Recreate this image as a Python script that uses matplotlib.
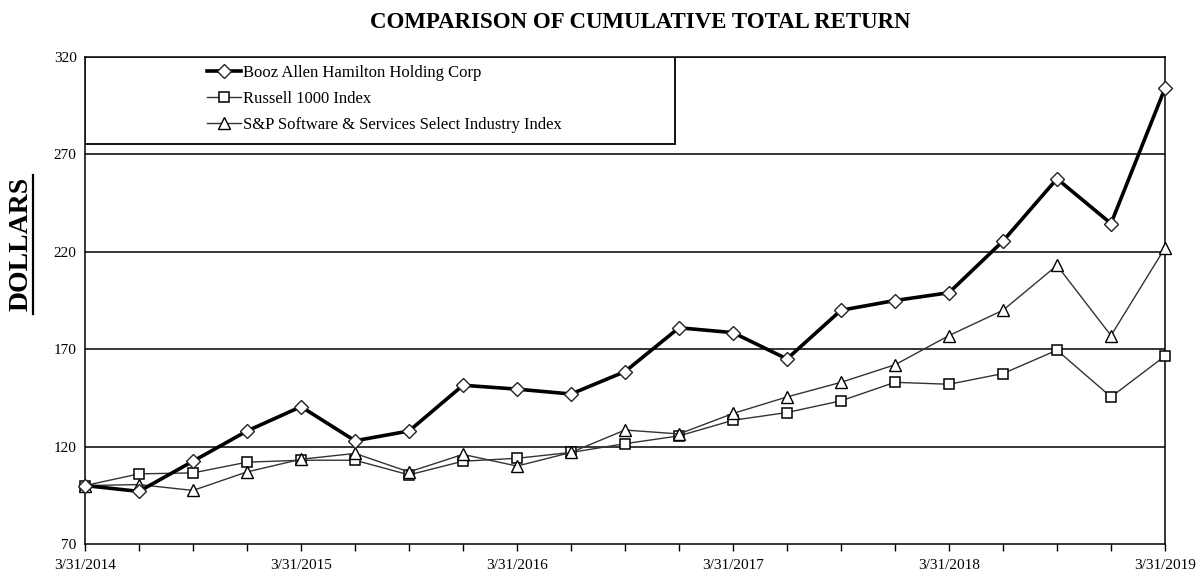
import matplotlib
matplotlib.use('Agg')
import matplotlib.pyplot as plt
from matplotlib.lines import Line2D
from matplotlib.patches import Rectangle

plt.rcParams['font.family'] = ['Liberation Serif', 'DejaVu Serif']

# quarterly points, 3/31/2014 .. 3/31/2019
quarters = list(range(21))
year_labels = ['3/31/2014', '3/31/2015', '3/31/2016', '3/31/2017', '3/31/2018', '3/31/2019']

booz = [100, 97, 112.5, 128, 140.5, 123, 128, 151.5, 149.5, 147, 158.5,
        181, 178.5, 165, 190, 195, 199, 225.5, 257.5, 234.5, 304]
russell = [100, 106, 106.5, 112, 113, 113, 105.5, 112.5, 114, 117, 121.5,
           125.5, 133.5, 137.5, 143.5, 153, 152, 157.5, 169.5, 145.5, 166.5]
snp = [100, 100.5, 97.5, 107, 113.5, 116.5, 107, 116, 110, 117, 128.5,
       126.5, 137, 145.5, 153, 162, 177, 190, 213, 177, 222]

names = ['Booz Allen Hamilton Holding Corp', 'Russell 1000 Index',
         'S&P Software & Services Select Industry Index']

fig = plt.figure(figsize=(12.02, 5.73), dpi=100)
ax = fig.add_axes([85 / 1202, 1 - 544 / 573, 1080 / 1202, 487 / 573])

for y in [120, 170, 220, 270, 320]:
    ax.axhline(y, color='black', lw=1.1, zorder=1)

h1, = ax.plot(quarters, booz, color='black', lw=2.6, marker='D', ms=6.8,
              mfc='white', mec='#222222', mew=1.0, clip_on=False, zorder=5)
h2, = ax.plot(quarters, russell, color='#333333', lw=1.0, marker='s', ms=7.8,
              mfc='white', mec='black', mew=1.1, clip_on=False, zorder=4)
h3, = ax.plot(quarters, snp, color='#333333', lw=1.0, marker='^', ms=9,
              mfc='white', mec='black', mew=1.0, clip_on=False, zorder=4)

ax.set_xlim(0, 20)
ax.set_ylim(70, 320)
ax.set_yticks([70, 120, 170, 220, 270, 320])
ax.set_xticks(quarters[::4])
ax.set_xticklabels(year_labels)
ax.set_xticks(quarters, minor=True)
ax.tick_params(axis='y', length=0, pad=6, labelsize=11)
ax.tick_params(axis='x', which='both', direction='out', length=5, width=1,
               pad=6, labelsize=11)
for s in ax.spines.values():
    s.set_linewidth(1.1)

# legend box
ax.add_patch(Rectangle((0, 0.822), 0.546, 0.178, transform=ax.transAxes,
                       fill=True, facecolor='white', edgecolor='black', lw=1.3,
                       zorder=6))
leg = ax.legend([h1, h2, h3], names, loc='upper left',
                bbox_to_anchor=(0.108, 0.995), frameon=False, fontsize=12,
                handlelength=2.0, handletextpad=0.15, labelspacing=0.6,
                borderaxespad=0, borderpad=0.35)
leg.set_zorder(7)

fig.text(640 / 1202, 1 - 22 / 573, 'COMPARISON OF CUMULATIVE TOTAL RETURN',
         ha='center', va='center', fontsize=16.5, fontweight='bold')

fig.text(21 / 1202, 1 - 244 / 573, 'DOLLARS', rotation=90, ha='center',
         va='center', fontsize=20, fontweight='bold')
fig.add_artist(Line2D([33 / 1202, 33 / 1202], [1 - 314 / 573, 1 - 175 / 573],
                      color='black', lw=1.6, transform=fig.transFigure))

fig.savefig('out.png', dpi=100)
